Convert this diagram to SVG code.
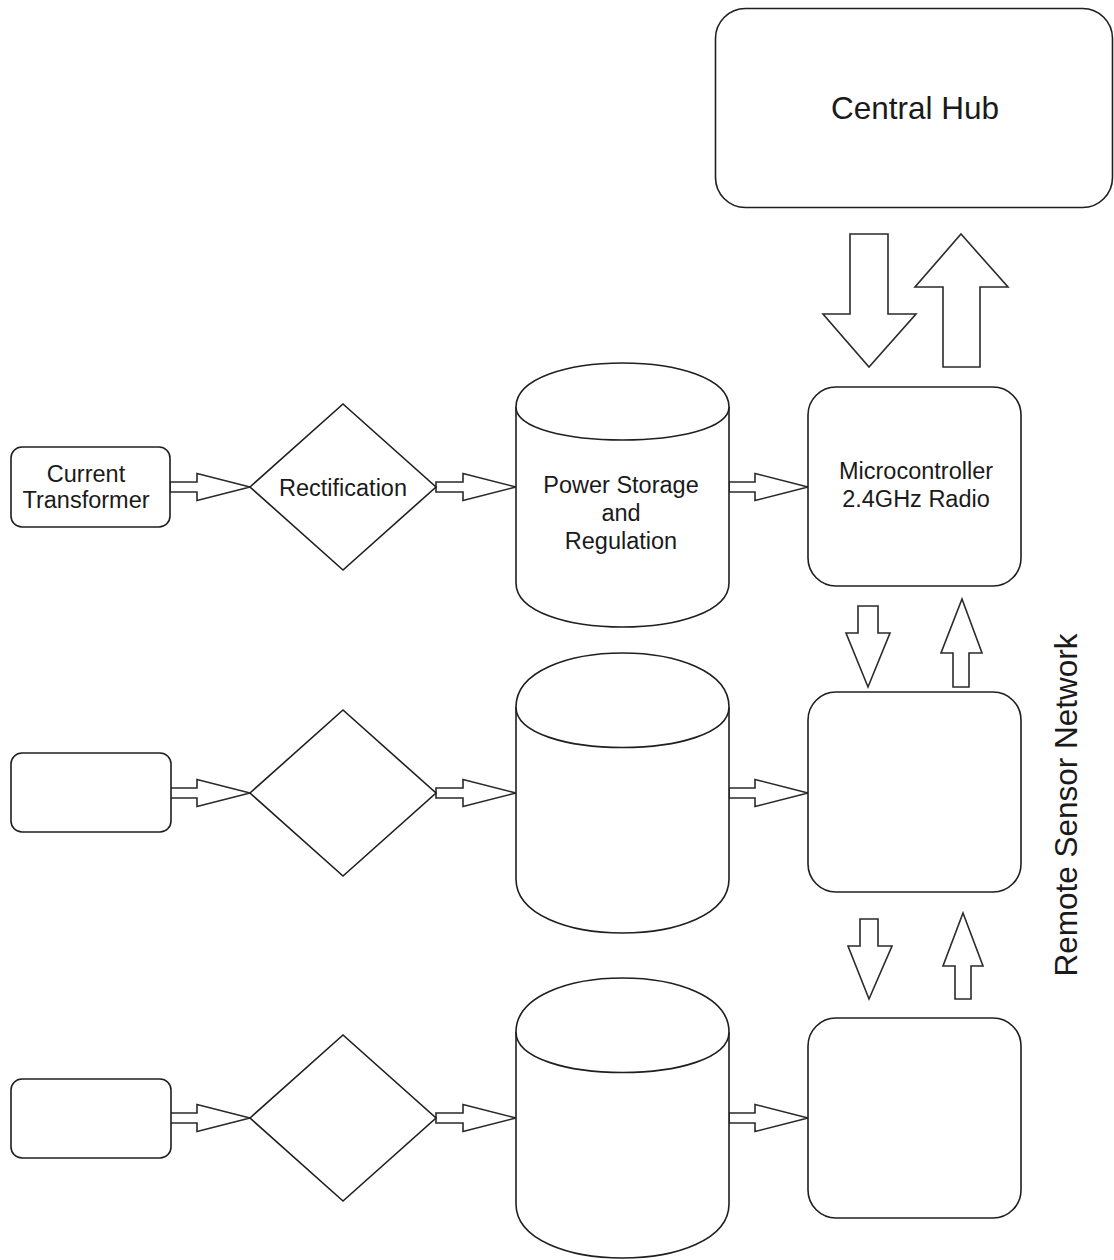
<svg xmlns="http://www.w3.org/2000/svg" width="1114" height="1260" viewBox="0 0 1114 1260">
<style>
.s{fill:#fff;stroke:#1f1f1f;stroke-width:1.6;stroke-linejoin:miter}
.a{fill:#fff;stroke:#2a2a2a;stroke-width:1.6;stroke-linejoin:miter}
.t{font-family:"Liberation Sans",Arial,sans-serif;font-size:23.5px;fill:#1a1a1a;text-anchor:middle}
.big{font-size:31.5px}
</style>
<rect width="1114" height="1260" fill="#fff"/>
<g id="connectors">
<polygon class="a" points="170,482 197,482 197,473.5 250,487 197,500.5 197,492 170,492"/>
<polygon class="a" points="436,482 463,482 463,473.5 516,487 463,500.5 463,492 436,492"/>
<polygon class="a" points="729,482 755,482 755,473.5 808,487 755,500.5 755,492 729,492"/>
<polygon class="a" points="170,788 197,788 197,779.5 250,793 197,806.5 197,798 170,798"/>
<polygon class="a" points="436,788 463,788 463,779.5 516,793 463,806.5 463,798 436,798"/>
<polygon class="a" points="729,788 755,788 755,779.5 808,793 755,806.5 755,798 729,798"/>
<polygon class="a" points="170,1113 197,1113 197,1104.5 250,1118 197,1131.5 197,1123 170,1123"/>
<polygon class="a" points="436,1113 463,1113 463,1104.5 516,1118 463,1131.5 463,1123 436,1123"/>
<polygon class="a" points="729,1113 755,1113 755,1104.5 808,1118 755,1131.5 755,1123 729,1123"/>
<polygon class="a" points="850,234 888,234 888,314 916,314 869,367 823,314 850,314"/>
<polygon class="a" points="961,234 1008,287 980,287 980,367 943,367 943,287 915,287"/>
<polygon class="a" points="858,606 878,606 878,633 890,633 868,687 846,633 858,633"/>
<polygon class="a" points="962,599 982,653 969,653 969,687 953,687 953,653 941,653"/>
<polygon class="a" points="860,919 878,919 878,946 892,946 869,999 848,946 860,946"/>
<polygon class="a" points="963,913 983,966 971,966 971,999 955,999 955,966 943,966"/>
</g>
<g id="hub">
<rect class="s" x="715.5" y="8.5" width="397" height="199" rx="30" ry="30"/>
<text class="t big" x="915" y="119">Central Hub</text>
</g>
<g id="ct1">
<rect class="s" x="11" y="447" width="159" height="80" rx="11" ry="11"/>
<text class="t" x="86" y="482">Current</text>
<text class="t" x="86" y="508">Transformer</text>
</g>
<g id="rect1">
<polygon class="s" points="250,487 343,404 436,487 343,570"/>
<text class="t" x="343" y="495.5">Rectification</text>
</g>
<g id="store1">
<path class="s" d="M516,407 C516,348.3 729,348.3 729,407 L729,583 C729,641.7 516,641.7 516,583 Z"/>
<path class="s" fill="none" d="M516,407 C516,451 729,451 729,407"/>
<text class="t" x="621" y="493">Power Storage</text>
<text class="t" x="621" y="521">and</text>
<text class="t" x="621" y="549">Regulation</text>
</g>
<g id="mcu1">
<rect class="s" x="808" y="387" width="213" height="199" rx="28" ry="28"/>
<text class="t" x="916" y="479">Microcontroller</text>
<text class="t" x="916" y="507">2.4GHz Radio</text>
</g>
<g id="ct2"><rect class="s" x="11" y="753" width="160" height="79" rx="11" ry="11"/></g>
<g id="rect2"><polygon class="s" points="250,793 343,710 436,793 343,876"/></g>
<g id="store2">
<path class="s" d="M516,707 C516,635 729,635 729,707 L729,879 C729,951 516,951 516,879 Z"/>
<path class="s" fill="none" d="M516,707 C516,761 729,761 729,707"/>
</g>
<g id="mcu2"><rect class="s" x="808" y="692" width="213" height="200" rx="28" ry="28"/></g>
<g id="ct3"><rect class="s" x="11" y="1079" width="160" height="79" rx="11" ry="11"/></g>
<g id="rect3"><polygon class="s" points="250,1118 343,1035 436,1118 343,1201"/></g>
<g id="store3">
<path class="s" d="M516,1032 C516,960 729,960 729,1032 L729,1204 C729,1276 516,1276 516,1204 Z"/>
<path class="s" fill="none" d="M516,1032 C516,1086 729,1086 729,1032"/>
</g>
<g id="mcu3"><rect class="s" x="808" y="1018" width="213" height="200" rx="28" ry="28"/></g>
<g id="label">
<text class="t big" transform="translate(1077,805) rotate(-90)">Remote Sensor Network</text>
</g>
</svg>
